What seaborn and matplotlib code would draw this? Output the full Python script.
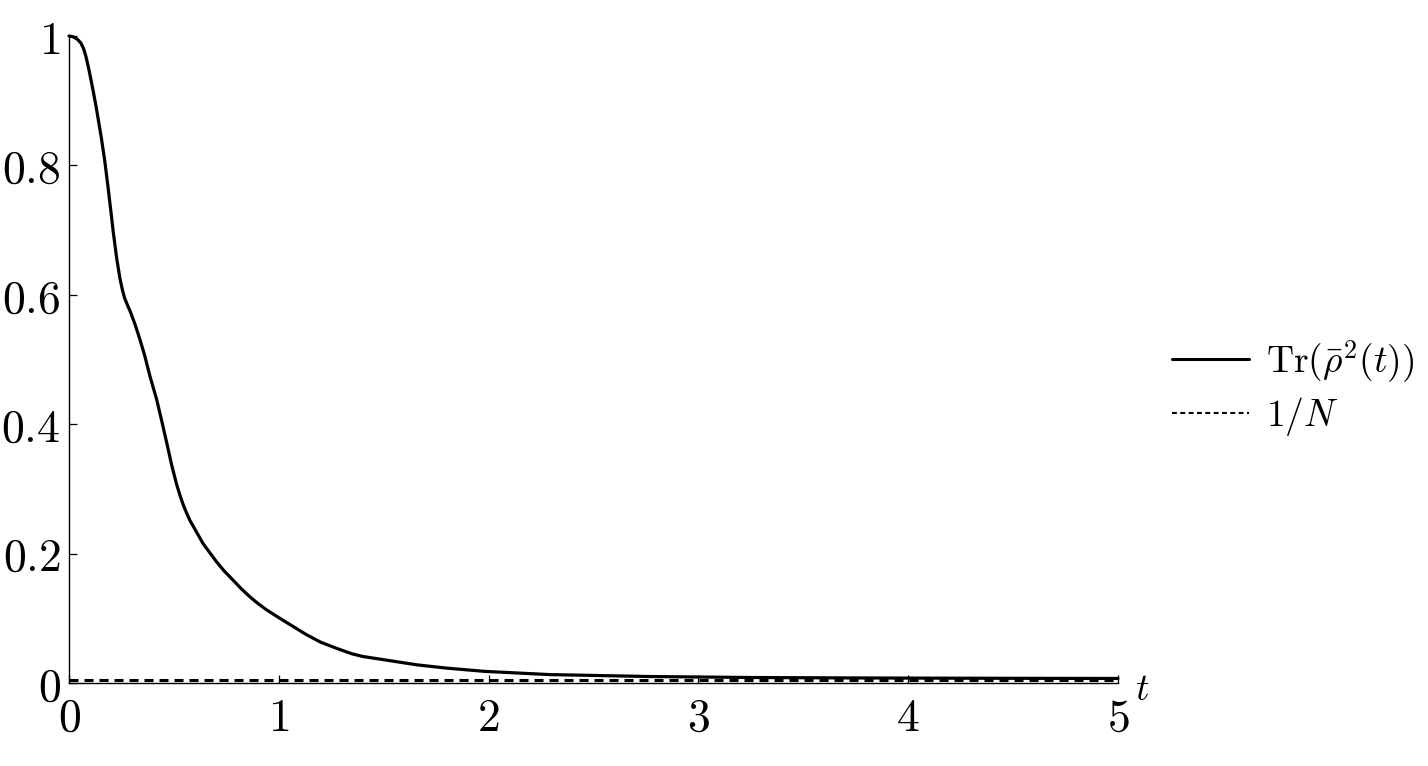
import matplotlib
matplotlib.use("Agg")
import matplotlib.pyplot as plt
import seaborn as sns
import pandas as pd
from matplotlib.lines import Line2D

sns.set_theme(style="white")
plt.rcParams['mathtext.fontset'] = 'cm'
plt.rcParams['font.family'] = ['DejaVu Serif']
plt.rcParams['lines.scale_dashes'] = False
plt.rcParams['text.color'] = 'black'

# data
t_vals = [0.0, 0.018, 0.04, 0.057, 0.07, 0.081, 0.093, 0.105, 0.117, 0.129, 0.141,
          0.153, 0.17, 0.187, 0.2, 0.211, 0.227, 0.243, 0.255, 0.265, 0.28, 0.291,
          0.315, 0.338, 0.36, 0.386, 0.418, 0.442, 0.466, 0.49, 0.513, 0.53, 0.545,
          0.56, 0.577, 0.61, 0.64, 0.672, 0.704, 0.74, 0.782, 0.82, 0.863, 0.90,
          0.942, 1.0, 1.07, 1.13, 1.2, 1.28, 1.35, 1.40, 1.5, 1.66, 1.8, 1.98, 2.29,
          2.77, 3.25, 3.75, 4.25, 5.0]
purity = [1.0, 0.999, 0.995, 0.989, 0.98, 0.968, 0.951, 0.932, 0.912, 0.891, 0.868,
          0.845, 0.808, 0.764, 0.728, 0.697, 0.657, 0.625, 0.607, 0.595, 0.583, 0.575,
          0.554, 0.531, 0.507, 0.474, 0.438, 0.405, 0.371, 0.336, 0.307, 0.289, 0.275,
          0.263, 0.251, 0.232, 0.215, 0.201, 0.187, 0.173, 0.159, 0.146, 0.133, 0.123,
          0.113, 0.101, 0.087, 0.075, 0.063, 0.053, 0.045, 0.041, 0.036, 0.028, 0.023,
          0.018, 0.013, 0.010, 0.0085, 0.0078, 0.0074, 0.007]
inv_N = 0.005
x_ticks = [0, 1, 2, 3, 4, 5]
y_ticks = [0, 0.2, 0.4, 0.6, 0.8, 1]
y_tick_labels = ["0", "0.2", "0.4", "0.6", "0.8", "1"]
legend_labels = [r"$\mathrm{Tr}(\bar{\rho}^2(t))$", r"$1/N$"]

df = pd.DataFrame({"t": t_vals, "p": purity})
df_n = pd.DataFrame({"t": [0, 5], "p": [inv_N, inv_N]})

fig = plt.figure(figsize=(14.28, 7.66), dpi=100)
ax = fig.add_axes([69/1428, 1-683/766, (1118-69)/1428, (683-36)/766])

sns.lineplot(data=df_n, x="t", y="p", ax=ax, color="black", linewidth=2.2,
             clip_on=False, zorder=3).lines[-1].set_dashes((6.5, 4.3))
sns.lineplot(data=df, x="t", y="p", ax=ax, color="black", linewidth=2.3,
             clip_on=False, zorder=4)
ax.lines[-1].set_solid_joinstyle("round")

ax.set_xlim(0, 5)
ax.set_ylim(0, 1)
for s in ["top", "right"]:
    ax.spines[s].set_visible(False)
for s in ["left", "bottom"]:
    ax.spines[s].set_color("black")
    ax.spines[s].set_linewidth(1.0)

ax.set_xticks(x_ticks)
ax.set_xticklabels([f"${v}$" for v in x_ticks], fontsize=33)
ax.set_yticks(y_ticks)
ax.set_yticklabels([f"${v}$" for v in y_tick_labels], fontsize=33)
ax.tick_params(axis="both", direction="in", length=6, width=0.9, color="black",
               left=True, bottom=True, labelcolor="black")
ax.tick_params(axis="x", pad=9)
ax.tick_params(axis="y", pad=6)
ax.set_xlabel("")
ax.set_ylabel("")

ax.annotate(r"$t$", xy=(1, 0), xycoords="axes fraction", xytext=(12, -5),
            textcoords="offset points", fontsize=27, va="center", ha="left",
            color="black")

handles = [Line2D([0], [0], color="black", linewidth=2.2),
           Line2D([0], [0], color="black", linewidth=1.5, dashes=(3.5, 2.5))]
fig.legend(handles, legend_labels, loc="center left",
           bbox_to_anchor=(1172/1428, 1-388/766), frameon=False, fontsize=27,
           handlelength=2.05, handletextpad=0.45, labelspacing=0.26, borderpad=0,
           borderaxespad=0, labelcolor="black")

fig.savefig("out.png", dpi=100, facecolor="white")
